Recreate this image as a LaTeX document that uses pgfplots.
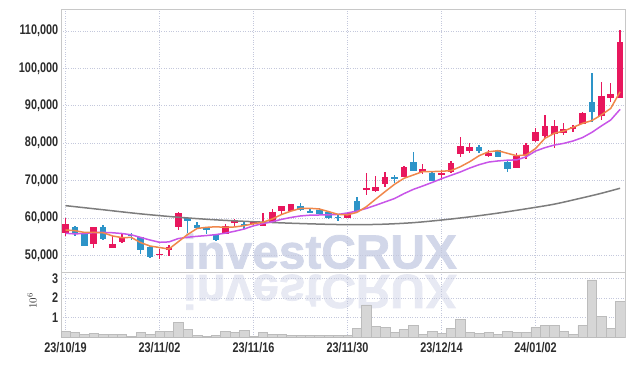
\documentclass[border=0pt]{standalone}
\usepackage{pgfplots}
\pgfplotsset{compat=1.18}
\usepackage{pgfplotstable}
\usepackage{fontspec}
\setmainfont{Liberation Sans}
\newfontfamily\wmfont[FakeBold=1.5]{Liberation Sans Bold}

\definecolor{upred}{RGB}{232,23,93}
\definecolor{dnblue}{RGB}{45,148,200}
\definecolor{maorange}{RGB}{240,135,75}
\definecolor{mapurple}{RGB}{200,85,232}
\definecolor{magray}{RGB}{125,125,125}
\definecolor{gridc}{RGB}{196,200,220}
\definecolor{framec}{RGB}{200,200,200}
\definecolor{wmA}{RGB}{210,215,233}
\definecolor{wmB}{RGB}{231,233,243}
\definecolor{volfill}{RGB}{214,214,214}
\definecolor{voledge}{RGB}{188,188,188}
\definecolor{labc}{RGB}{45,45,45}

% candles: index, open, high, low, close
\pgfplotstableread{
i o h l c
0 55900 59900 55300 58400
3 52950 57700 51900 57500
5 52050 55450 52050 53050
6 53500 56100 53200 54800
10 50300 51700 49100 50450
11 51450 52700 49900 52350
12 57500 61500 56800 61250
17 55700 58300 55700 57950
18 58750 59700 57950 59200
20 58300 59200 58100 58800
21 57950 61250 57950 59000
22 58850 62400 58850 61500
23 61850 63200 60800 63200
24 61950 63650 61950 63650
30 60100 61500 60100 61300
32 67650 71950 66150 68100
33 67200 71300 67050 68400
34 69100 72400 68200 70850
36 71050 73900 71050 73550
38 72400 74350 71650 73100
40 71650 72800 70150 71950
41 72400 75300 71950 74800
42 77000 81550 76400 79250
43 77900 79950 77300 78900
45 76650 78200 76400 77450
48 73450 77300 73450 76550
49 76550 79950 75700 79500
50 80600 83950 80400 82900
51 82000 87550 81300 84600
52 82550 86200 78600 84600
53 82650 85300 82200 83800
54 83700 84850 83100 84350
55 85050 88250 85050 88000
57 87350 96450 86200 92600
58 92150 96000 91100 93150
59 92150 110250 92000 107150
}\upc

\pgfplotstableread{
i o h l c
1 57700 57850 55200 55900
2 55700 55800 52500 52600
4 57700 58050 54100 54300
7 55550 56000 54100 55350
8 54800 54900 50400 51450
9 52350 52400 49200 49650
13 60100 60350 55900 59200
14 58100 59000 57000 57250
15 57500 57700 55700 56700
16 55450 55700 53900 54100
19 58350 59000 57050 58100
25 63300 63900 61900 62150
26 61800 62300 61250 61600
27 62150 62600 60800 61000
28 61500 61700 59650 59900
29 60300 60800 59200 60100
31 64550 65700 61850 61850
35 70900 71500 69250 70550
37 75050 77550 72550 72550
39 72100 72350 69950 69950
44 79050 79500 77300 78000
46 78200 78300 76400 76400
47 75050 75500 72400 73100
56 90900 98700 85750 88250
}\dnc

\pgfplotstableread{
i v
0 56800
1 56600
2 56150
3 56150
4 56050
5 55200
6 54750
7 54800
8 53400
9 52500
10 52100
11 51700
12 53650
13 55600
14 57200
15 57500
16 57650
17 57500
18 57600
19 57950
20 58450
21 58850
22 59750
23 60950
24 61850
25 62550
26 62600
27 62400
28 61700
29 60950
30 60850
31 61500
32 63000
33 65050
34 67050
35 69000
36 70600
37 71500
38 72400
39 72400
40 72500
41 72650
42 73700
43 75050
44 76650
45 77700
46 78000
47 77300
48 76650
49 76850
50 78550
51 81300
52 82650
53 83250
54 84250
55 85300
56 86050
57 87550
58 89300
59 93750
}\maA

\pgfplotstableread{
i v
0 55900
1 55750
2 55850
3 56100
4 56150
5 56050
6 55850
7 55500
8 54800
9 54100
10 53500
11 53600
12 54500
13 54850
14 55100
15 55300
16 55550
17 55950
18 56450
19 57050
20 57900
21 58500
22 59000
23 59650
24 60150
25 60550
26 60750
27 60800
28 60850
29 60950
30 61350
31 61850
32 62550
33 63400
34 64300
35 65200
36 66500
37 67650
38 68550
39 69500
40 70500
41 71400
42 72300
43 73350
44 74250
45 74950
46 75250
47 75450
48 75550
49 76350
50 77900
51 78800
52 79500
53 79950
54 80600
55 81500
56 82900
57 84600
58 86200
59 89050
}\maB

\pgfplotstableread{
i v
0 63300
4 62200
8 61100
12 60200
16 59500
20 59000
24 58600
28 58300
31 58200
34 58350
37 58750
40 59450
43 60300
46 61300
49 62450
52 63700
55 65400
57 66600
59 67950
}\maC

\pgfplotstableread{
i v
0 0.28
1 0.25
2 0.13
3 0.18
4 0.13
5 0.13
6 0.13
7 0.05
8 0.23
9 0.15
10 0.28
11 0.28
12 0.73
13 0.38
14 0.08
15 0.03
16 0.08
17 0.28
18 0.23
19 0.33
20 0.03
21 0.23
22 0.13
23 0.13
24 0.07
25 0.07
26 0.07
27 0.08
28 0.08
29 0.08
30 0.08
31 0.43
32 1.64
33 0.53
34 0.48
35 0.23
36 0.38
37 0.58
38 0.13
39 0.28
40 0.18
41 0.43
42 0.89
43 0.23
44 0.18
45 0.23
46 0.13
47 0.28
48 0.23
49 0.23
50 0.48
51 0.58
52 0.58
53 0.28
54 0.13
55 0.58
56 2.93
57 1.07
58 0.43
59 1.83
}\vol

\pgfplotsset{
  common/.style={
    scale only axis, width=564bp,
    xmin=-0.48, xmax=59.52,
    xtick={0,10,20,30,40,50},
    major tick length=0pt,
    grid=major,
    major grid style={gridc, dotted, line width=0.7bp},
    axis line style={framec, line width=0.8bp},
    tick label style={font=\bfseries\fontsize{14}{14}\selectfont, text=labc, xscale=0.78},
    /pgf/number format/assume math mode=true,
  },
  candle/.style 2 args={draw=none, mark=none, forget plot,
    /pgfplots/error bars/y dir=both,
    /pgfplots/error bars/y explicit,
    /pgfplots/error bars/error mark=none,
    /pgfplots/error bars/error bar style={draw=#1, solid, line width=#2}},
}

\begin{document}
\begin{tikzpicture}
\useasboundingbox (0,0) rectangle (634bp,-366bp);

% watermark and reflection (behind the charts)
\node[anchor=base, inner sep=0pt, text=wmA,
  font=\wmfont\fontsize{48}{48}\selectfont] at (320bp,-268.5bp) {investCRUX};
\node[anchor=base, inner sep=0pt, text=wmB, yscale=-1,
  font=\wmfont\fontsize{48}{48}\selectfont] at (320bp,-275bp) {investCRUX};

\begin{axis}[common,
  at={(61bp,-9bp)}, anchor=north west, height=263bp,
  ymin=45556, ymax=115883,
  ytick={50000,60000,...,110000},
  scaled y ticks=false,
  yticklabel={\pgfmathprintnumber[fixed,1000 sep={,}]{\tick}},
  xticklabels={},
]
% wicks
\addplot[candle={upred}{1.3bp}]
  table[x=i, y expr=(\thisrow{h}+\thisrow{l})/2, y error expr=(\thisrow{h}-\thisrow{l})/2] {\upc};
\addplot[candle={dnblue}{1.3bp}]
  table[x=i, y expr=(\thisrow{h}+\thisrow{l})/2, y error expr=(\thisrow{h}-\thisrow{l})/2] {\dnc};
% bodies
\addplot[candle={upred}{6.5bp}]
  table[x=i, y expr=(\thisrow{o}+\thisrow{c})/2, y error expr=abs(\thisrow{c}-\thisrow{o})/2] {\upc};
\addplot[candle={dnblue}{6.5bp}]
  table[x=i, y expr=(\thisrow{o}+\thisrow{c})/2, y error expr=abs(\thisrow{c}-\thisrow{o})/2] {\dnc};
% moving averages
\addplot[magray, line width=1.5bp, smooth, mark=none] table[x=i,y=v] {\maC};
\addplot[mapurple, line width=1.5bp, mark=none] table[x=i,y=v] {\maB};
\addplot[maorange, line width=1.5bp, mark=none] table[x=i,y=v] {\maA};
\end{axis}

\begin{axis}[common,
  at={(61bp,-272bp)}, anchor=north west, height=65bp,
  ymin=0, ymax=3.33,
  ytick={1,2,3},
  xticklabels={23/10/19,23/11/02,23/11/16,23/11/30,23/12/14,24/01/02},
  xticklabel style={yshift=-2bp},
]
\addplot[ybar, bar width=1, fill=volfill, draw=voledge, line width=0.6bp] table[x=i,y=v] {\vol};
\end{axis}

\node[rotate=90, text=labc, font=\fontsize{11}{11}\selectfont] at (32bp,-301bp) {$10^{6}$};
\end{tikzpicture}
\end{document}
